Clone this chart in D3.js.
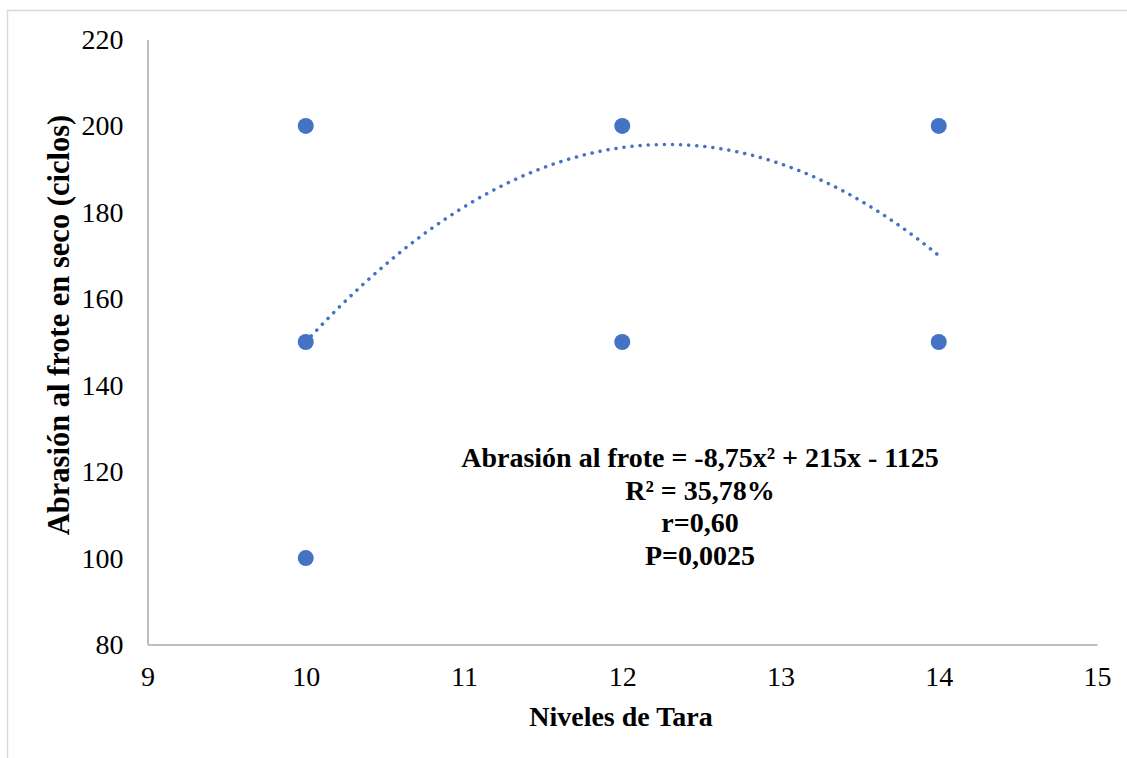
<!DOCTYPE html>
<html>
<head>
<meta charset="utf-8">
<script src="https://cdn.jsdelivr.net/npm/d3@7"></script>
<style>
  html, body { margin: 0; padding: 0; background: #fff; }
  svg { display: block; }
  text { font-family: "Liberation Serif", "Times New Roman", serif; }
</style>
</head>
<body>
<div id="chart"></div>
<script>
// observed values
const nivelesTara = [10, 10, 10, 12, 12, 14, 14];
const abrasion = [200, 150, 100, 200, 150, 200, 150];

// fitted polynomial: a x^2 + b x + c
const coefs = [-8.75, 215, -1125];

const xTicks = [9, 10, 11, 12, 13, 14, 15];
const yTicks = [80, 100, 120, 140, 160, 180, 200, 220];

const annotation = [
  'Abrasión al frote = -8,75x² + 215x - 1125',
  'R² = 35,78%',
  'r=0,60',
  'P=0,0025'
];

const width = 1127;
const height = 758;
const margin = { top: 39.5, right: 30, bottom: 113.5, left: 147.5 };
const blue = '#4472c4';
const axisColor = '#bfbfbf';
const font = '"Liberation Serif", "Times New Roman", serif';
const fs = 28;

const svg = d3.select('#chart').append('svg')
  .attr('width', width)
  .attr('height', height);

// outer chart frame
svg.append('rect')
  .attr('x', 7.5).attr('y', 10.5)
  .attr('width', width + 10).attr('height', height + 10)
  .attr('fill', '#fff')
  .attr('stroke', '#d9d9d9')
  .attr('stroke-width', 1.5);

const x = d3.scaleLinear()
  .domain([9, 15])
  .range([margin.left, width - margin.right]);
const y = d3.scaleLinear()
  .domain([80, 220])
  .range([height - margin.bottom, margin.top]);

// axes
const xAxis = g => g.attr('transform', `translate(0,${y(80)})`)
  .call(d3.axisBottom(x).tickValues(xTicks).tickSize(0).tickPadding(22).tickFormat(d3.format('d')))
  .call(g => g.select('.domain').attr('stroke', axisColor).attr('stroke-width', 2))
  .call(g => g.selectAll('text')
    .attr('font-family', font).attr('font-size', fs).attr('fill', '#000'));

const yAxis = g => g.attr('transform', `translate(${x(9)},0)`)
  .call(d3.axisLeft(y).tickValues(yTicks).tickSize(0).tickPadding(24).tickFormat(d3.format('d')))
  .call(g => g.select('.domain').attr('stroke', axisColor).attr('stroke-width', 2))
  .call(g => g.selectAll('text')
    .attr('font-family', font).attr('font-size', fs).attr('fill', '#000'));

svg.append('g').call(xAxis);
svg.append('g').call(yAxis);

// trend line
const poly = v => coefs[0] * v * v + coefs[1] * v + coefs[2];
const xs = d3.range(10, 14.0001, 0.05);
const line = d3.line()
  .x(d => x(d))
  .y(d => y(poly(d)))
  .curve(d3.curveMonotoneX);

svg.append('path')
  .datum(xs)
  .attr('d', line)
  .attr('fill', 'none')
  .attr('stroke', blue)
  .attr('stroke-width', 3.5)
  .attr('stroke-linecap', 'round')
  .attr('stroke-dasharray', '0.1 8');

// points
svg.append('g')
  .selectAll('circle')
  .data(nivelesTara.map((v, i) => [v, abrasion[i]]))
  .join('circle')
  .attr('cx', d => x(d[0]))
  .attr('cy', d => y(d[1]))
  .attr('r', 8)
  .attr('fill', blue);

// annotation
svg.append('g')
  .attr('font-family', font)
  .attr('font-size', fs)
  .attr('font-weight', 'bold')
  .attr('text-anchor', 'middle')
  .selectAll('text')
  .data(annotation)
  .join('text')
  .attr('x', 700)
  .attr('y', (d, i) => 467 + i * 32.5)
  .text(d => d);

// axis titles
svg.append('text')
  .attr('x', 621)
  .attr('y', 726)
  .attr('text-anchor', 'middle')
  .attr('font-family', font)
  .attr('font-size', fs)
  .attr('font-weight', 'bold')
  .text('Niveles de Tara');

svg.append('text')
  .attr('transform', `translate(69,325) rotate(-90)`)
  .attr('text-anchor', 'middle')
  .attr('font-family', font)
  .attr('font-size', 30.5)
  .attr('font-weight', 'bold')
  .text('Abrasión al frote en seco (ciclos)');
</script>
</body>
</html>
